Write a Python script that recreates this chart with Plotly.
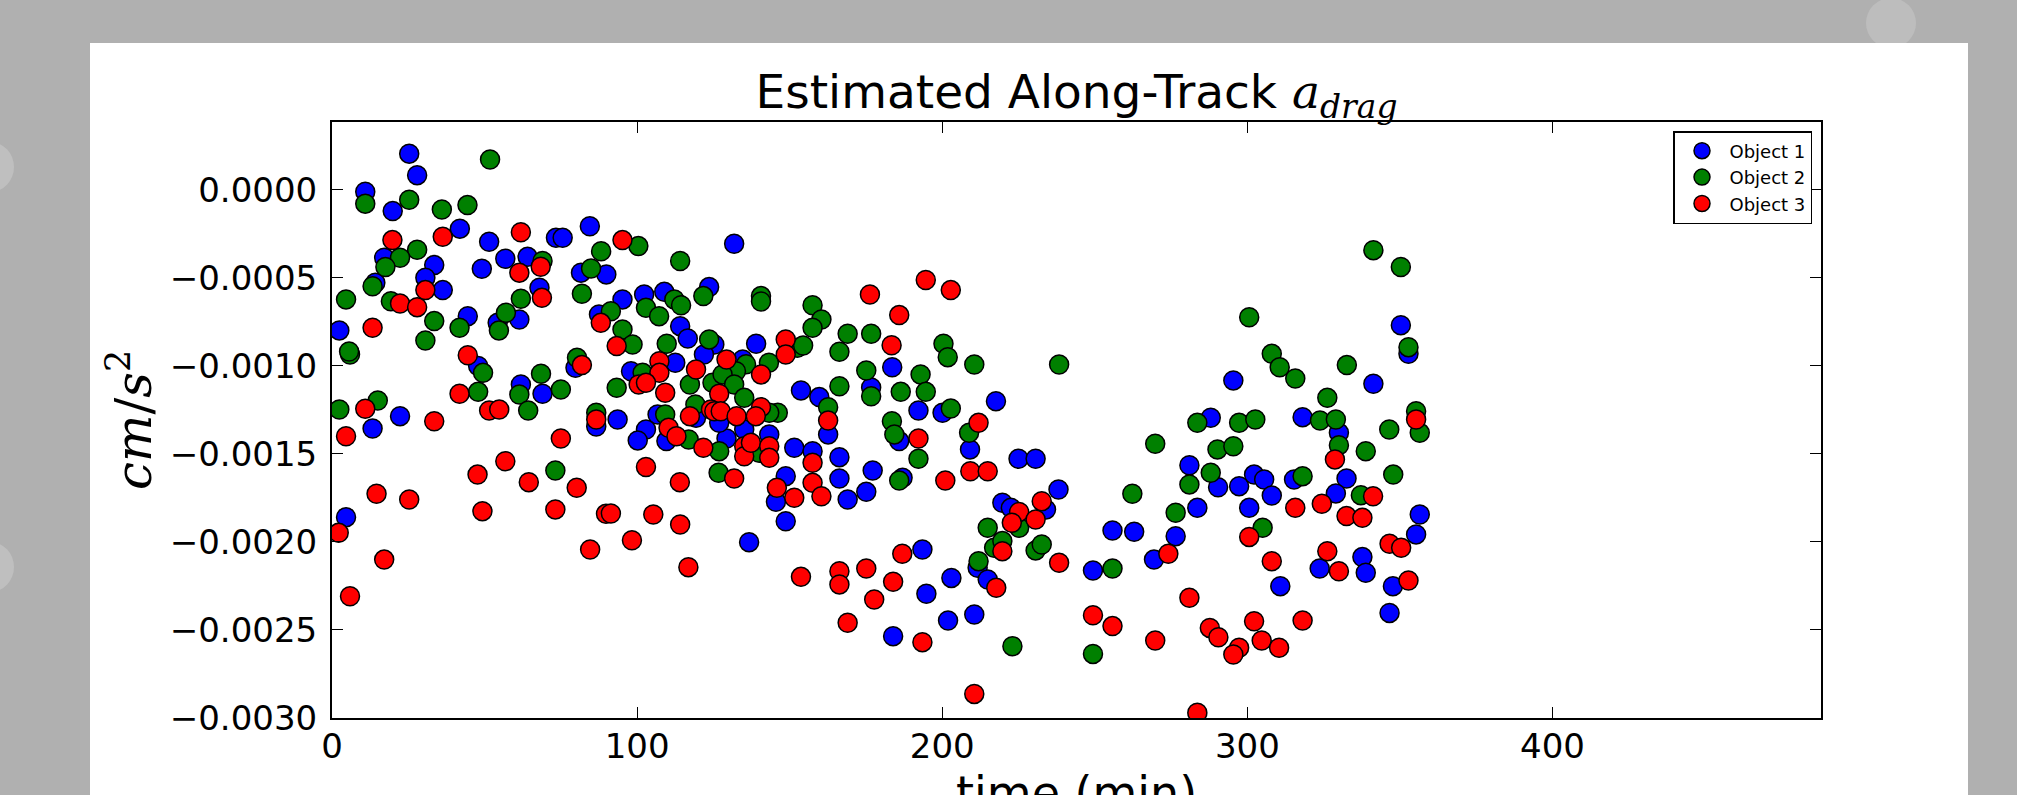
import plotly.graph_objects as go

# ---------------- data (time in min, along-track drag in cm/s^2) ----------------
obj1_t = [25.3, 27.9, 10.9, 19.9, 41.9, 17.1, 33.5, 30.6, 36.3, 14.2, 51.5, 73.4, 75.6, 84.5, 49.1,
          56.8, 64.1, 68.0, 61.4, 54.3, 81.6, 89.9, 87.5, 2.4, 44.5, 47.9, 79.8, 61.9, 69.0, 22.3,
          13.3, 86.6, 4.6, 131.8, 95.2, 102.3, 108.9, 123.6, 176.7, 153.7, 159.7, 139.0, 114.1, 116.6, 125.3,
          121.9, 134.6, 112.5, 98.0, 93.6, 106.7, 102.9, 100.2, 109.6, 129.3, 135.1, 126.9, 143.3, 151.5, 157.5,
          166.3, 166.3, 169.0, 175.1, 177.2, 162.6, 148.7, 145.5, 148.7, 136.7, 183.6, 192.2, 200.1, 217.6, 185.9,
          209.1, 187.0, 225.0, 230.6, 238.1, 219.7, 222.5, 234.0, 211.6, 214.9, 193.5, 203.0, 194.8, 201.9, 210.5,
          183.9, 255.8, 262.9, 249.4, 350.3, 352.8, 295.4, 341.3, 288.0, 318.1, 330.0, 281.0, 290.4, 297.3, 302.2,
          305.5, 308.0, 315.3, 332.5, 329.0, 283.6, 300.6, 356.5, 355.3, 276.5, 269.4, 323.7, 337.7, 338.8, 347.7,
          346.6, 310.8, 119.3]
obj1_a = [0.000206, 0.000084, -0.000010, -0.000120, -0.000220, -0.000385, -0.000427, -0.000499, -0.000569, -0.000527,
          -0.000294, -0.000272, -0.000272, -0.000206, -0.000448, -0.000391, -0.000380, -0.000556, -0.000736, -0.000755,
          -0.000470, -0.000480, -0.000707, -0.000798, -0.000717, -0.001000, -0.001010, -0.001105, -0.001158, -0.001285,
          -0.001355, -0.001344, -0.001859, -0.000306, -0.000622, -0.000594, -0.000579, -0.000552, -0.001122, -0.001139,
          -0.001177, -0.000874, -0.000774, -0.000844, -0.000878, -0.000935, -0.000963, -0.000982, -0.001030, -0.001304,
          -0.001276, -0.001361, -0.001423, -0.001427, -0.001412, -0.001361, -0.001323, -0.001389, -0.001465, -0.001484,
          -0.001518, -0.001639, -0.001759, -0.001715, -0.001594, -0.001389, -0.001626, -0.001772, -0.001882, -0.002001,
          -0.001007, -0.001253, -0.001266, -0.001200, -0.001427, -0.001474, -0.001635, -0.001527, -0.001527, -0.001702,
          -0.001777, -0.001806, -0.001815, -0.002147, -0.002213, -0.002043, -0.002204, -0.002294, -0.002446, -0.002412,
          -0.002535, -0.001935, -0.001942, -0.002162, -0.000768, -0.000931, -0.001082, -0.001101, -0.001294, -0.001291,
          -0.001380, -0.001564, -0.001689, -0.001683, -0.001617, -0.001645, -0.001736, -0.001645, -0.001639, -0.001724,
          -0.001806, -0.001806, -0.001844, -0.001957, -0.001967, -0.002100, -0.002151, -0.002086, -0.002175, -0.002251,
          -0.002403, -0.002251, -0.001294]

obj2_t = [10.9, 25.3, 51.8, 36.0, 44.4, 27.9, 22.3, 17.5, 13.3, 4.6, 19.3, 69.0, 61.9, 57.0, 54.7,
          81.9, 84.9, 88.2, 41.8, 33.5, 30.6, 5.9, 5.6, 49.5, 80.3, 68.5, 61.4, 75.0, 64.3, 47.9,
          15.0, 2.4, 86.6, 73.2, 100.4, 114.1, 91.4, 102.9, 107.2, 112.2, 114.4, 121.7, 140.6, 140.6, 157.5,
          160.4, 157.5, 169.0, 176.7, 166.3, 175.1, 166.3, 176.7, 162.6, 152.5, 154.4, 143.2, 95.2, 98.5, 109.7,
          123.6, 135.7, 132.4, 101.8, 93.3, 117.3, 124.7, 128.0, 131.8, 135.1, 119.1, 146.1, 143.3, 109.2, 116.9,
          126.9, 126.7, 140.0, 200.4, 201.8, 210.5, 238.3, 192.9, 186.4, 194.6, 202.8, 183.5, 184.3, 192.2, 208.8,
          185.9, 262.3, 225.2, 214.9, 217.0, 219.7, 230.6, 232.6, 211.9, 255.8, 223.0, 249.4, 341.3, 350.3, 300.6,
          352.8, 308.0, 310.6, 315.7, 332.6, 326.2, 355.3, 283.6, 297.3, 302.6, 323.8, 329.0, 330.0, 346.5, 356.5,
          338.8, 269.8, 290.2, 295.4, 288.0, 281.0, 318.1, 337.2, 347.8, 276.5, 305.0]
obj2_a = [-0.000078, -0.000056, 0.000173, -0.000111, -0.000086, -0.000340, -0.000385, -0.000438, -0.000547, -0.000622,
          -0.000632, -0.000404, -0.000618, -0.000698, -0.000798, -0.000590, -0.000446, -0.000348, -0.000783, -0.000745,
          -0.000855, -0.000935, -0.000918, -0.001039, -0.000954, -0.001044, -0.001162, -0.001134, -0.001253, -0.001147,
          -0.001196, -0.001247, -0.001266, -0.001594, -0.000319, -0.000404, -0.000689, -0.000669, -0.000717, -0.000622,
          -0.000655, -0.000603, -0.000603, -0.000634, -0.000655, -0.000736, -0.000783, -0.000817, -0.000817, -0.000919,
          -0.001026, -0.001115, -0.001172, -0.001234, -0.000897, -0.000884, -0.000982, -0.000793, -0.000878, -0.000874,
          -0.000849, -0.000990, -0.001030, -0.001039, -0.001124, -0.001105, -0.001096, -0.001048, -0.001105, -0.001181,
          -0.001219, -0.001266, -0.001266, -0.001276, -0.001418, -0.001484, -0.001607, -0.001493, -0.000874, -0.000950,
          -0.000992, -0.000992, -0.001048, -0.001147, -0.001147, -0.001242, -0.001314, -0.001389, -0.001527, -0.001380,
          -0.001651, -0.001726, -0.001919, -0.001919, -0.002033, -0.001995, -0.002048, -0.002014, -0.002109, -0.002151,
          -0.002592, -0.002636, -0.000342, -0.000438, -0.000723, -0.000893, -0.000931, -0.001007, -0.001071, -0.000995,
          -0.001181, -0.001257, -0.001323, -0.001323, -0.001304, -0.001310, -0.001304, -0.001450, -0.001361, -0.001380,
          -0.001484, -0.001442, -0.001474, -0.001456, -0.001607, -0.001673, -0.001626, -0.001734, -0.001617, -0.001834,
          -0.001919]

obj3_t = [36.3, 19.8, 30.6, 22.3, 27.9, 61.9, 61.4, 68.4, 68.8, 88.1, 13.3, 44.5, 81.9, 41.8, 51.5,
          54.8, 10.9, 33.5, 86.6, 4.6, 75.0, 56.8, 47.7, 64.5, 80.2, 14.6, 25.3, 49.3, 73.2, 89.8,
          2.2, 84.6, 17.1, 5.9, 95.2, 176.3, 148.7, 148.7, 140.6, 93.3, 129.3, 107.3, 107.3, 119.3, 100.5,
          102.9, 109.2, 126.9, 124.2, 125.3, 127.4, 117.3, 132.6, 140.6, 138.9, 162.6, 110.3, 112.9, 121.7, 131.8,
          135.1, 135.1, 137.3, 143.3, 143.3, 157.5, 157.5, 160.4, 145.8, 151.5, 102.9, 114.0, 91.4, 105.3, 114.1,
          98.3, 116.8, 153.7, 166.3, 166.3, 175.1, 177.7, 169.0, 194.6, 202.8, 185.9, 183.4, 211.9, 192.2, 209.2,
          214.9, 201.0, 225.2, 232.6, 222.8, 230.6, 219.7, 238.3, 217.7, 186.9, 183.9, 193.5, 249.4, 255.8, 210.5,
          355.3, 328.7, 341.2, 315.7, 324.4, 332.5, 337.7, 346.6, 350.4, 274.1, 300.6, 308.0, 326.2, 330.0, 352.8,
          281.0, 318.1, 302.2, 304.7, 310.4, 287.7, 290.5, 297.3, 295.4, 269.8, 283.6]
obj3_a = [-0.000266, -0.000285, -0.000569, -0.000645, -0.000666, -0.000240, -0.000470, -0.000436, -0.000613, -0.000755,
          -0.000783, -0.000939, -0.000995, -0.001158, -0.001253, -0.001247, -0.001243, -0.001314, -0.001304, -0.001399,
          -0.001412, -0.001541, -0.001617, -0.001660, -0.001692, -0.001726, -0.001759, -0.001825, -0.001815, -0.001840,
          -0.001948, -0.002043, -0.002100, -0.002308, -0.000285, -0.000594, -0.000850, -0.000935, -0.001048, -0.000887,
          -0.000963, -0.000973, -0.001039, -0.001020, -0.001105, -0.001096, -0.001152, -0.001158, -0.001247, -0.001257,
          -0.001257, -0.001285, -0.001285, -0.001234, -0.001285, -0.001310, -0.001351, -0.001399, -0.001465, -0.001639,
          -0.001456, -0.001513, -0.001436, -0.001456, -0.001522, -0.001550, -0.001664, -0.001740, -0.001692, -0.001749,
          -0.001574, -0.001660, -0.001838, -0.001844, -0.001901, -0.001990, -0.002143, -0.002198, -0.002166, -0.002241,
          -0.002151, -0.002327, -0.002459, -0.000512, -0.000569, -0.000711, -0.000882, -0.001323, -0.001412, -0.001598,
          -0.001598, -0.001651, -0.001829, -0.001768, -0.001891, -0.001872, -0.002052, -0.002118, -0.002260, -0.002067,
          -0.002226, -0.002569, -0.002416, -0.002478, -0.002863, -0.001304, -0.001531, -0.001740, -0.001806, -0.001783,
          -0.001853, -0.001863, -0.002010, -0.002033, -0.002067, -0.001971, -0.002109, -0.002052, -0.002166, -0.002219,
          -0.002317, -0.002446, -0.002450, -0.002560, -0.002601, -0.002488, -0.002541, -0.002601, -0.002639, -0.002560,
          -0.002970]

series_names = ["Object 1", "Object 2", "Object 3"]
series_colors = ["#0000ff", "#008000", "#ff0000"]

x_ticks = [0, 100, 200, 300, 400]
y_ticks = [-0.0030, -0.0025, -0.0020, -0.0015, -0.0010, -0.0005, 0.0]
y_ticktext = ["\u22120.0030", "\u22120.0025", "\u22120.0020", "\u22120.0015",
              "\u22120.0010", "\u22120.0005", "0.0000"]

# ---------------- layout geometry (pixels) ----------------
W, H = 2017, 795
PL, PR, PT, PB = 332, 1821, 122, 718   # plot area edges


def px(xp):
    return (xp - PL) / (PR - PL)


def py(yp):
    return (PB - yp) / (PB - PT)


fig = go.Figure()
for name, t, a, c in zip(series_names, [obj1_t, obj2_t, obj3_t],
                         [obj1_a, obj2_a, obj3_a], series_colors):
    fig.add_trace(go.Scatter(
        x=t, y=a, mode="markers", name=name,
        marker=dict(size=19, color=c, line=dict(color="black", width=1.5)),
    ))

shapes = [
    # faint background blobs
    dict(type="circle", xref="paper", yref="paper", layer="below",
         x0=px(1866), x1=px(1916), y0=py(48), y1=py(-2),
         fillcolor="#bdbdbd", line=dict(width=0)),
    dict(type="circle", xref="paper", yref="paper", layer="below",
         x0=px(-34), x1=px(14), y0=py(192), y1=py(142),
         fillcolor="#bfbfbf", line=dict(width=0)),
    dict(type="circle", xref="paper", yref="paper", layer="below",
         x0=px(-34), x1=px(14), y0=py(592), y1=py(542),
         fillcolor="#bfbfbf", line=dict(width=0)),
    # white panel
    dict(type="rect", xref="paper", yref="paper", layer="below",
         x0=px(90), x1=px(1968), y0=py(810), y1=py(43),
         fillcolor="white", line=dict(width=0)),
]

axis_common = dict(
    ticks="inside", ticklen=11, tickwidth=1.2, tickcolor="black",
    showline=True, linecolor="black", linewidth=2, mirror="ticks",
    showgrid=False, zeroline=False, automargin=False,
    tickfont=dict(family="DejaVu Sans", size=34, color="black"),
)

fig.update_layout(
    width=W, height=H,
    margin=dict(l=PL, r=W - PR, t=PT, b=H - PB, pad=0),
    paper_bgcolor="#b0b0b0",
    plot_bgcolor="white",
    shapes=shapes,
    showlegend=True,
    title=dict(
        text="Estimated Along-Track <span style=\"font-family:'DejaVu Serif'\"><i>a</i><sub><i>drag</i></sub></span>",
        x=0.5, xref="paper", xanchor="center",
        y=1 - 92 / H, yref="container", yanchor="middle",
        font=dict(family="DejaVu Sans", size=47, color="black"),
    ),
    xaxis=dict(range=[0, 488], tickvals=x_ticks, ticklabelstandoff=-3, **axis_common),
    yaxis=dict(range=[-0.0030, 0.000386], tickvals=y_ticks, ticktext=y_ticktext,
               ticklabelstandoff=6, **axis_common),
    legend=dict(
        x=px(1812), y=py(131), xanchor="right", yanchor="top",
        bgcolor="white", bordercolor="black", borderwidth=1.5,
        font=dict(family="DejaVu Sans", size=18, color="black"),
        tracegroupgap=0, itemwidth=45,
    ),
    annotations=[
        dict(text="<i>cm</i>/<i>s</i><sup>2</sup>", xref="paper", yref="paper",
             x=px(130), y=0.5, xanchor="center", yanchor="middle", textangle=-90,
             showarrow=False, font=dict(family="DejaVu Serif", size=50, color="black")),
        dict(text="time (min)", xref="paper", yref="paper",
             x=0.5, y=py(764), xanchor="center", yanchor="top",
             showarrow=False, font=dict(family="DejaVu Sans", size=46, color="black")),
    ],
)

fig.write_html("out.html")
